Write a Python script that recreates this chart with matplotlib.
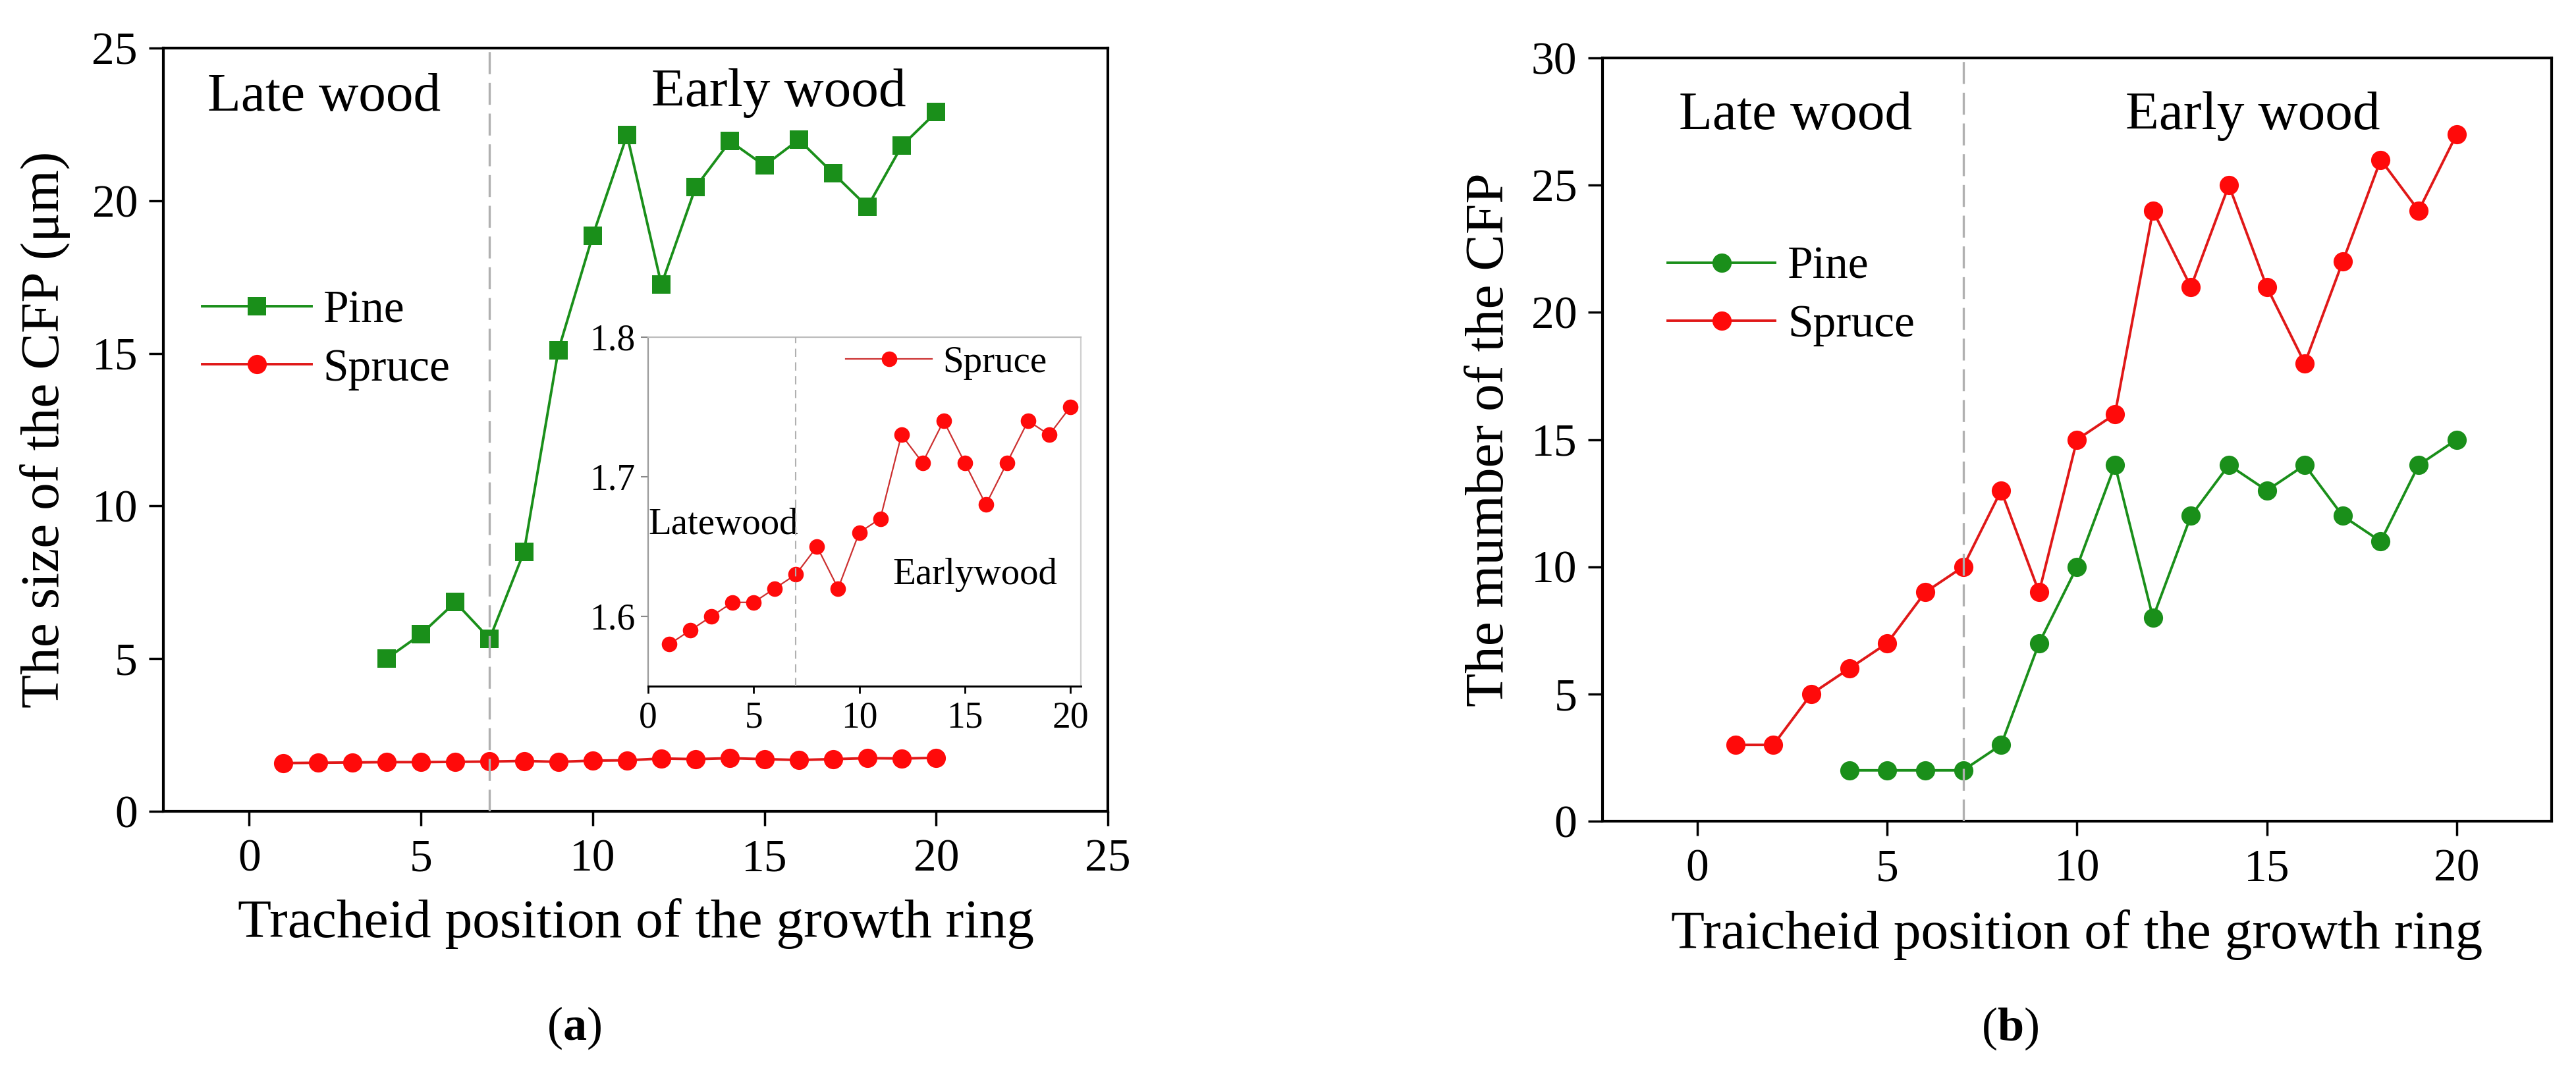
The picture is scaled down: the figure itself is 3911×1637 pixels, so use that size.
import matplotlib
matplotlib.use("Agg")
import matplotlib.pyplot as plt

plt.rcParams['font.family'] = ['Liberation Serif', 'DejaVu Serif']
plt.rcParams['mathtext.fontset'] = 'custom'
plt.rcParams['mathtext.rm'] = 'Liberation Serif'
plt.rcParams['mathtext.bf'] = 'Liberation Serif:bold'

# ---------------- data ----------------
pos_pine = list(range(4, 21))
pos_spruce = list(range(1, 21))

pine_size = [5.0, 5.8, 6.85, 5.65, 8.5, 15.1, 18.85, 22.15, 17.25, 20.45,
             21.95, 21.15, 22.0, 20.9, 19.8, 21.8, 22.9]
spruce_size = [1.58, 1.59, 1.60, 1.61, 1.61, 1.62, 1.63, 1.65, 1.62, 1.66,
               1.67, 1.73, 1.71, 1.74, 1.71, 1.68, 1.71, 1.74, 1.73, 1.75]

pine_number = [2, 2, 2, 2, 3, 7, 10, 14, 8, 12, 14, 13, 14, 12, 11, 14, 15]
spruce_number = [3, 3, 5, 6, 7, 9, 10, 13, 9, 15, 16, 24, 21, 25, 21, 18, 22, 26, 24, 27]

boundary = 7
a_xticks = [0, 5, 10, 15, 20, 25]
a_yticks = [0, 5, 10, 15, 20, 25]
b_xticks = [0, 5, 10, 15, 20]
b_yticks = [0, 5, 10, 15, 20, 25, 30]
inset_xticks = [0, 5, 10, 15, 20]
inset_yticks = [1.6, 1.7, 1.8]

GREEN = '#1a8f1a'
RED = '#ff0a0a'
RED_LINE = '#e01818'
DASH_GRAY = '#b0b0b0'

fig = plt.figure(figsize=(39.11, 16.37), dpi=100)

ax1 = fig.add_axes([0.0634, 0.2474, 0.3667, 0.708])
ax2 = fig.add_axes([0.6221, 0.2382, 0.3684, 0.708])
axin = fig.add_axes([0.2516, 0.3635, 0.168, 0.3238])


def style_main(ax):
    for s in ax.spines.values():
        s.set_linewidth(3)
        s.set_color('black')
    ax.tick_params(axis='both', direction='out', length=16, width=2.5,
                   labelsize=50, top=False, right=False)
    ax.tick_params(axis='x', pad=14)
    ax.tick_params(axis='y', pad=12)


# ---------------- panel (a) ----------------
style_main(ax1)
ax1.plot(pos_pine, pine_size, color=GREEN, lw=2.8, marker='s', ms=19.5,
         mfc=GREEN, mew=0, label='Pine', zorder=3)
ax1.plot(pos_spruce, spruce_size, color=RED_LINE, lw=2.8, marker='o', ms=21,
         mfc=RED, mew=0, label='Spruce', zorder=3)
ax1.axvline(boundary, color=DASH_GRAY, lw=2.4, ls=(0, (10, 4)), zorder=5)
ax1.set_xlim(-2.5, 25)
ax1.set_ylim(0, 25)
ax1.set_xticks(a_xticks)
ax1.set_yticks(a_yticks)
ax1.set_xlabel('Tracheid position of the growth ring', fontsize=60)
ax1.xaxis.set_label_coords(0.5, -0.114)
ax1.set_ylabel('The size of the CFP (\u03bcm)', fontsize=60, va='center')
ax1.yaxis.set_label_coords(-0.1248, 0.5)
ax1.text(-1.21, 22.95, 'Late wood', fontsize=60, ha='left', va='baseline')
ax1.text(11.70, 23.1, 'Early wood', fontsize=60, ha='left', va='baseline')
ax1.legend(loc='upper left', bbox_to_anchor=(0.041, 0.6825), frameon=False,
           fontsize=50, handlelength=2.4, handletextpad=0.25, labelspacing=0.35,
           borderpad=0, borderaxespad=0)

# inset
axin.set_facecolor('white')
axin.plot(pos_spruce, spruce_size, color='#cc3030', lw=1.6, marker='o', ms=17,
          mfc=RED, mew=0, label='Spruce', zorder=3)
axin.axvline(boundary, color=DASH_GRAY, lw=1.5, ls=(0, (6, 4)), zorder=5)
axin.set_xlim(0, 20.5)
axin.set_ylim(1.55, 1.8)
axin.set_xticks(inset_xticks)
axin.set_yticks(inset_yticks)
axin.set_yticklabels(['%.1f' % v for v in inset_yticks])
axin.spines['left'].set_color('#9a9a9a')
axin.spines['left'].set_linewidth(1.6)
axin.spines['top'].set_color('#bdbdbd')
axin.spines['top'].set_linewidth(1.6)
axin.spines['right'].set_color('#cfcfcf')
axin.spines['right'].set_linewidth(1.6)
axin.spines['bottom'].set_color('black')
axin.spines['bottom'].set_linewidth(2.2)
axin.tick_params(axis='y', direction='out', length=8, width=1.5,
                 color='#888888', labelsize=40, pad=6)
axin.tick_params(axis='x', direction='out', length=8, width=2,
                 color='black', labelsize=40, pad=8)
axin.text(0.0, 1.659, 'Latewood', fontsize=41, ha='left', va='baseline')
axin.text(11.57, 1.623, 'Earlywood', fontsize=41, ha='left', va='baseline')
axin.legend(loc='upper left', bbox_to_anchor=(0.457, 0.975), frameon=False,
            fontsize=41, handlelength=2.3, handletextpad=0.28,
            borderpad=0, borderaxespad=0)

# ---------------- panel (b) ----------------
style_main(ax2)
ax2.plot(pos_pine, pine_number, color=GREEN, lw=2.8, marker='o', ms=21,
         mfc=GREEN, mew=0, label='Pine', zorder=3)
ax2.plot(pos_spruce, spruce_number, color=RED_LINE, lw=2.8, marker='o', ms=21,
         mfc=RED, mew=0, label='Spruce', zorder=3)
ax2.axvline(boundary, color=DASH_GRAY, lw=2.4, ls=(0, (10, 4)), zorder=5)
ax2.set_xlim(-2.5, 22.5)
ax2.set_ylim(0, 30)
ax2.set_xticks(b_xticks)
ax2.set_yticks(b_yticks)
ax2.set_xlabel('Traicheid position of the growth ring', fontsize=60)
ax2.xaxis.set_label_coords(0.5, -0.1156)
ax2.set_ylabel('The mumber of the CFP', fontsize=60, va='center')
ax2.yaxis.set_label_coords(-0.1187, 0.5)
ax2.text(-0.49, 27.2, 'Late wood', fontsize=60, ha='left', va='baseline')
ax2.text(11.28, 27.2, 'Early wood', fontsize=60, ha='left', va='baseline')
ax2.legend(loc='upper left', bbox_to_anchor=(0.0687, 0.753), frameon=False,
           fontsize=50, handlelength=2.35, handletextpad=0.27, labelspacing=0.35,
           borderpad=0, borderaxespad=0)

# captions
fig.text(872 / 3911, 1 - 1561 / 1637, r'($\mathbf{a}$)', ha='center', va='center', fontsize=52)
fig.text(3052 / 3911, 1 - 1562 / 1637, r'($\mathbf{b}$)', ha='center', va='center', fontsize=52)

fig.savefig('out.png', dpi=100, facecolor='white')
